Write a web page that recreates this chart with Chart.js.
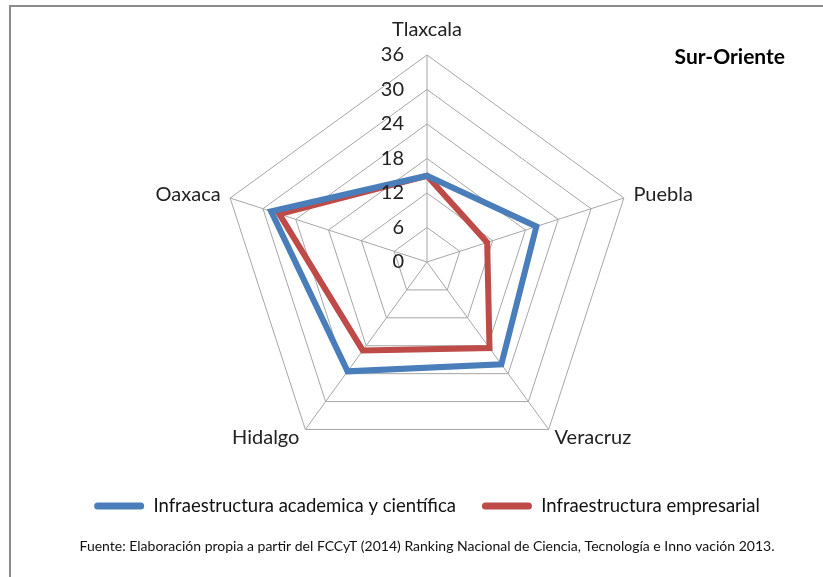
<!DOCTYPE html>
<html>
<head>
<meta charset="utf-8">
<script src="https://cdn.jsdelivr.net/npm/chart.js@4"></script>
<style>
  body { margin: 0; background: #fff; }
  #wrap { position: relative; width: 823px; height: 577px; }
  #frame { position: absolute; left: 9px; top: 5px; right: 0; bottom: 0;
           border-top: 2px solid #8c8c8c; border-left: 2px solid #8c8c8c; pointer-events: none; }
  canvas { position: absolute; left: 0; top: 0; }
</style>
</head>
<body>
<div id="wrap">
  <canvas id="radar_chart" width="823" height="577"></canvas>
  <div id="frame"></div>
</div>
<script>
// Datos
const estados = ['Tlaxcala', 'Puebla', 'Veracruz', 'Hidalgo', 'Oaxaca'];
const academica = [15, 20, 22, 23.5, 28.5];
const empresarial = [15, 11, 18.5, 19, 27];
const ticksEscala = [0, 6, 12, 18, 24, 30, 36];

const FONT = 'Lato, "Open Sans", sans-serif';

// Etiquetas de ejes, valores y título dibujados a mano
const extras = {
    id: 'extras',
    afterDraw(chart) {
        const ctx = chart.ctx;
        const r = chart.scales.r;
        ctx.save();
        ctx.fillStyle = '#222';

        // valores de la escala, a la izquierda del eje vertical
        ctx.font = '20px ' + FONT;
        ctx.textAlign = 'right';
        ctx.textBaseline = 'middle';
        ticksEscala.forEach(v => {
            const d = r.getDistanceFromCenterForValue(v);
            ctx.fillText(String(v), r.xCenter - 23, r.yCenter - d);
        });

        // nombres de los estados
        estados.forEach((nombre, i) => {
            const p = r.getPointPosition(i, r.drawingArea + 10);
            if (i === 0) {
                ctx.textAlign = 'center';
                ctx.fillText(nombre, p.x, p.y - 15);
            } else {
                ctx.textAlign = p.x > r.xCenter ? 'left' : 'right';
                ctx.fillText(nombre, p.x, p.y);
            }
        });

        // título
        ctx.font = 'bold 21px ' + FONT;
        ctx.textAlign = 'right';
        ctx.fillStyle = '#000';
        ctx.fillText('Sur-Oriente', 785, 57);
        ctx.restore();
    }
};

const ctxRadar = document.getElementById('radar_chart').getContext('2d');
const radarChart = new Chart(ctxRadar, {
    type: 'radar',
    data: {
        labels: estados,
        datasets: [{
            label: 'Infraestructura academica y científica',
            data: academica,
            borderColor: '#4a7ebb',
            backgroundColor: '#4a7ebb',
            borderWidth: 6,
            borderJoinStyle: 'miter',
            pointRadius: 0,
            fill: false
        }, {
            label: 'Infraestructura empresarial',
            data: empresarial,
            borderColor: '#be4b48',
            backgroundColor: '#be4b48',
            borderWidth: 6,
            borderJoinStyle: 'miter',
            pointRadius: 0,
            fill: false
        }]
    },
    options: {
        responsive: false,
        animation: false,
        layout: {
            padding: { top: 55, left: 31, right: 0, bottom: 18 }
        },
        scales: {
            r: {
                min: 0,
                max: 36,
                ticks: { stepSize: 6, display: false },
                grid: { color: '#a6a6a6', lineWidth: 1 },
                angleLines: { color: '#a6a6a6', lineWidth: 1 },
                pointLabels: { display: false }
            }
        },
        plugins: {
            legend: {
                position: 'bottom',
                labels: {
                    boxWidth: 50,
                    boxHeight: 7,
                    padding: 26,
                    useBorderRadius: true,
                    borderRadius: 3.5,
                    color: '#111',
                    font: { family: FONT, size: 18.5 },
                    generateLabels(chart) {
                        return Chart.defaults.plugins.legend.labels.generateLabels(chart)
                            .map(item => Object.assign(item, { lineWidth: 0 }));
                    }
                }
            },
            title: {
                display: true,
                position: 'bottom',
                text: 'Fuente: Elaboración propia a partir del FCCyT (2014) Ranking Nacional de Ciencia, Tecnología e Inno vación 2013.',
                color: '#111',
                font: { family: FONT, size: 14, weight: 'normal' },
                padding: { top: 13, bottom: 4 }
            },
            tooltip: { enabled: false }
        }
    },
    plugins: [extras]
});
</script>
</body>
</html>
